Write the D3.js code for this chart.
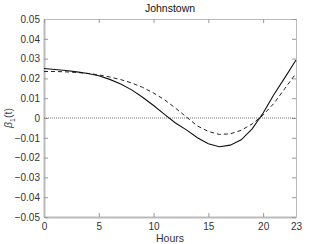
<!DOCTYPE html>
<html>
<head>
<meta charset="utf-8">
<script src="https://cdn.jsdelivr.net/npm/d3@7"></script>
<style>
  html, body { margin: 0; padding: 0; background: #fff; overflow: hidden; }
  svg { display: block; }
  svg text { font-family: "Liberation Sans", Arial, sans-serif; }
</style>
</head>
<body>
<div id="chart"></div>
<script>
const hours = d3.range(0, 24);
const solid = [0.0250, 0.0245, 0.0240, 0.0233, 0.0225, 0.0213, 0.0195, 0.0172,
  0.0142, 0.0105, 0.0063, 0.0018, -0.0025, -0.0060, -0.0100, -0.0130,
  -0.0145, -0.0137, -0.0110, -0.0055, 0.0025, 0.0120, 0.0205, 0.0293];
const dashed = [0.0235, 0.0235, 0.0233, 0.0230, 0.0225, 0.0218, 0.0207, 0.0194,
  0.0177, 0.0155, 0.0126, 0.0092, 0.0050, 0.0005, -0.0040, -0.0068,
  -0.0083, -0.0080, -0.0062, -0.0030, 0.0015, 0.0075, 0.0150, 0.0225];
const xTicks = [0, 5, 10, 15, 20, 23];
const yTicks = [-0.05, -0.04, -0.03, -0.02, -0.01, 0, 0.01, 0.02, 0.03, 0.04, 0.05];

const width = 327;
const height = 244;
const margin = { top: 19, right: 31, bottom: 27, left: 44 };
const innerWidth = width - margin.left - margin.right;
const innerHeight = height - margin.top - margin.bottom;

const svg = d3.select('#chart')
  .append('svg')
  .attr('width', width)
  .attr('height', height)
  .append('g')
  .attr('transform', `translate(${margin.left},${margin.top})`);

const x = d3.scaleLinear().domain([0, 23]).range([0, innerWidth]);
const y = d3.scaleLinear().domain([-0.05, 0.05]).range([innerHeight, 0]);

const fmt = d => d === 0 ? '0' : d3.format('.2f')(d);

// axes with inward ticks (matlab style)
const axisColor = '#bbb';
const gx = svg.append('g')
  .attr('transform', `translate(0,${innerHeight})`)
  .call(d3.axisBottom(x).tickValues(xTicks).tickSizeInner(-4).tickSizeOuter(0).tickPadding(6));
const gy = svg.append('g')
  .call(d3.axisLeft(y).tickValues(yTicks).tickFormat(fmt).tickSizeInner(-4).tickSizeOuter(0).tickPadding(4));
const gt = svg.append('g')
  .call(d3.axisTop(x).tickValues(xTicks).tickSizeInner(-4).tickSizeOuter(0));
const gr = svg.append('g')
  .attr('transform', `translate(${innerWidth},0)`)
  .call(d3.axisRight(y).tickValues(yTicks).tickSizeInner(-4).tickSizeOuter(0));
gt.selectAll('text').remove();
gr.selectAll('text').remove();

[gx, gy, gt, gr].forEach(g => {
  g.selectAll('.domain').attr('stroke', axisColor);
  g.selectAll('.tick line').attr('stroke', '#999');
  g.selectAll('text').attr('fill', '#333').attr('font-size', '10px');
});
gx.select('.domain').attr('stroke-width', 2);
gy.select('.domain').attr('stroke-width', 2);

// zero line
svg.append('line')
  .attr('x1', 0).attr('x2', innerWidth)
  .attr('y1', y(0)).attr('y2', y(0))
  .attr('stroke', '#777')
  .attr('stroke-width', 1)
  .attr('stroke-dasharray', '1,1');

const line = d3.line()
  .x((d, i) => x(hours[i]))
  .y(d => y(d));

svg.append('path')
  .datum(dashed)
  .attr('fill', 'none')
  .attr('stroke', '#222')
  .attr('stroke-width', 1)
  .attr('stroke-dasharray', '4,3')
  .attr('d', line);

svg.append('path')
  .datum(solid)
  .attr('fill', 'none')
  .attr('stroke', '#111')
  .attr('stroke-width', 1.1)
  .attr('d', line);

svg.append('text')
  .attr('x', innerWidth / 2)
  .attr('y', -7)
  .attr('text-anchor', 'middle')
  .attr('font-size', '10.5px')
  .attr('fill', '#111')
  .text('Johnstown');

svg.append('text')
  .attr('x', innerWidth / 2)
  .attr('y', innerHeight + 25)
  .attr('text-anchor', 'middle')
  .attr('font-size', '10.5px')
  .attr('fill', '#333')
  .text('Hours');

const yl = svg.append('text')
  .attr('transform', `translate(${-32},${y(0)}) rotate(-90)`)
  .attr('text-anchor', 'middle')
  .attr('font-size', '10.5px')
  .attr('fill', '#444');
yl.append('tspan').attr('font-style', 'italic').text('β');
yl.append('tspan').attr('font-size', '7px').attr('dy', 3).text('1');
yl.append('tspan').attr('dy', -3).text('(t)');
</script>
</body>
</html>
